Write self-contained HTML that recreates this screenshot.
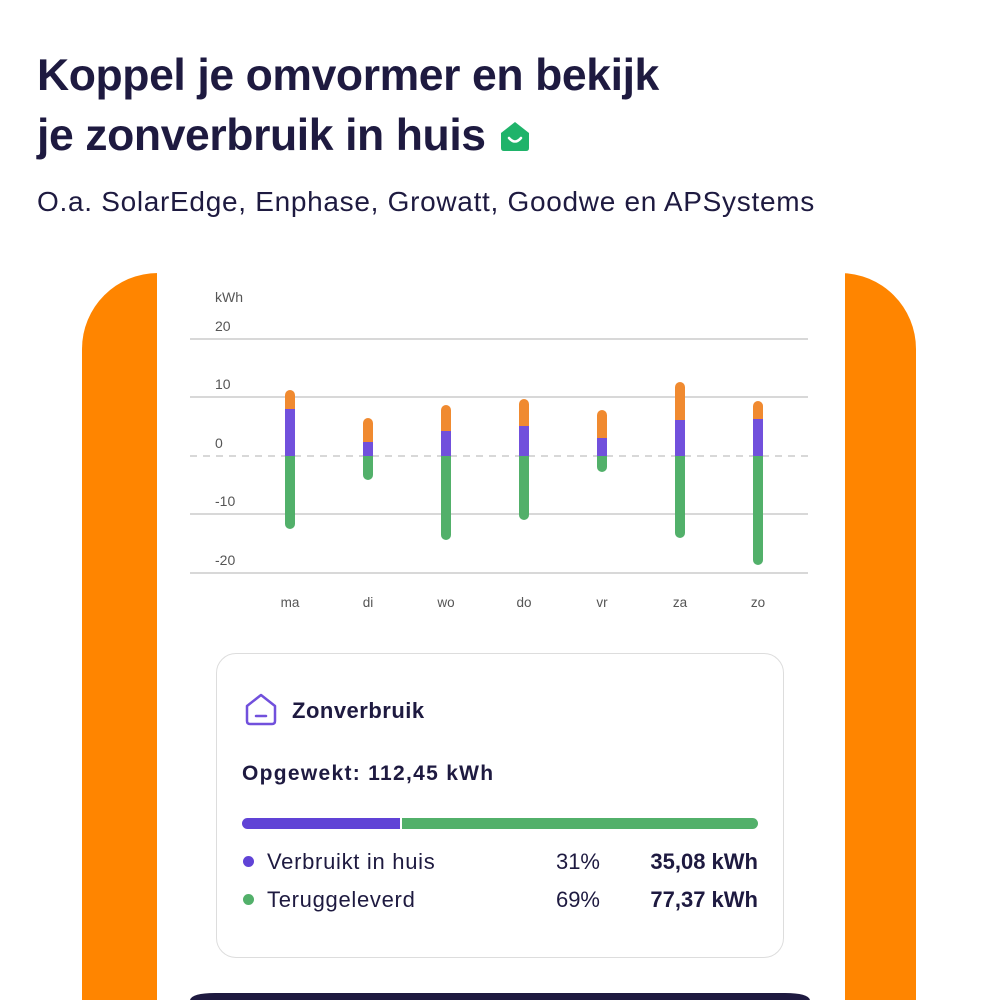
<!DOCTYPE html>
<html style="overflow:hidden;width:1000px;height:1000px"><head><style>
body{margin:0;width:1000px;height:1000px;overflow:hidden;background:#fff;font-family:"Liberation Sans",sans-serif;color:#1e1a40;position:relative}
.a{position:absolute}
h1{position:absolute;left:37px;top:46px;margin:0;font-size:44.5px;line-height:60px;font-weight:bold;letter-spacing:-0.4px;color:#1e1a40;white-space:nowrap}
</style></head><body>
<h1>Koppel je omvormer en bekijk<br>je zonverbruik in huis <span style="display:inline-block;width:34px;height:34px;vertical-align:-3px;position:relative"><svg width="34" height="34" viewBox="0 0 34 34"><path d="M3 14 L17 3 L31 14 V29 Q31 32 28 32 H6 Q3 32 3 29 Z" fill="#1fb36a"/><path d="M11 19 Q17 26 23 19" stroke="#fff" stroke-width="2.5" fill="none" stroke-linecap="round"/></svg></span></h1>
<div class="a" style="left:37px;top:186px;font-size:28px;letter-spacing:0.7px;color:#1e1a40;white-space:nowrap">O.a. SolarEdge, Enphase, Growatt, Goodwe en APSystems</div>
<div class="a" style="left:82px;top:273px;width:834px;height:727px;background:#ff8500;border-radius:76px 76px 0 0"></div>
<div class="a" style="left:157px;top:273px;width:688px;height:727px;background:#fff"></div>
<svg class="a" style="left:0;top:0" width="1000" height="1000">
<g stroke="#d8d8d8" stroke-width="2"><line x1="190" y1="339" x2="808" y2="339"/><line x1="190" y1="397" x2="808" y2="397"/><line x1="190" y1="514" x2="808" y2="514"/><line x1="190" y1="573" x2="808" y2="573"/></g>
<line x1="190" y1="456" x2="808" y2="456" stroke="#ccc" stroke-width="1.5" stroke-dasharray="7,6"/>
<g font-family="Liberation Sans" font-size="14" fill="#555">
<text x="215" y="302">kWh</text><text x="215" y="331">20</text><text x="215" y="389">10</text><text x="215" y="448">0</text><text x="215" y="506">-10</text><text x="215" y="565">-20</text>
<g text-anchor="middle" font-size="13.5"><text x="290" y="607">ma</text><text x="368" y="607">di</text><text x="446" y="607">wo</text><text x="524" y="607">do</text><text x="602" y="607">vr</text><text x="680" y="607">za</text><text x="758" y="607">zo</text></g>
</g>
<g stroke-width="10" stroke-linecap="round">
<g stroke="#f08a30"><line x1="290" y1="395" x2="290" y2="412"/><line x1="368" y1="423" x2="368" y2="445"/><line x1="446" y1="410" x2="446" y2="434"/><line x1="524" y1="404" x2="524" y2="429"/><line x1="602" y1="415" x2="602" y2="441"/><line x1="680" y1="387" x2="680" y2="423"/><line x1="758" y1="406" x2="758" y2="422"/></g>
<g stroke="#52b06a"><line x1="290" y1="460" x2="290" y2="524"/><line x1="368" y1="460" x2="368" y2="475"/><line x1="446" y1="460" x2="446" y2="535"/><line x1="524" y1="460" x2="524" y2="515"/><line x1="602" y1="460" x2="602" y2="467"/><line x1="680" y1="460" x2="680" y2="533"/><line x1="758" y1="460" x2="758" y2="560"/></g>
</g>
<g fill="#7150dc"><rect x="285" y="409" width="10" height="47"/><rect x="363" y="442" width="10" height="14"/><rect x="441" y="431" width="10" height="25"/><rect x="519" y="426" width="10" height="30"/><rect x="597" y="438" width="10" height="18"/><rect x="675" y="420" width="10" height="36"/><rect x="753" y="419" width="10" height="37"/></g>
<g fill="#52b06a"><rect x="285" y="456" width="10" height="10"/><rect x="363" y="456" width="10" height="10"/><rect x="441" y="456" width="10" height="10"/><rect x="519" y="456" width="10" height="10"/><rect x="597" y="456" width="10" height="8"/><rect x="675" y="456" width="10" height="10"/><rect x="753" y="456" width="10" height="10"/></g>
<path d="M190 1000 V1023 A30 30 0 0 1 220 993 H780 A30 30 0 0 1 810 1023 V1000 Z" fill="#1e1a40"/>
<path d="M190 1000 Q192 993 215 993 H785 Q808 993 810 1000 Z" fill="#1e1a40"/>
</svg>
<div class="a" style="left:216px;top:653px;width:566px;height:303px;border:1.5px solid #ddd;border-radius:20px"></div>
<svg class="a" style="left:244px;top:692px" width="34" height="34" viewBox="0 0 34 34"><path d="M3 14 L17 3 L31 14 V29 Q31 32 28 32 H6 Q3 32 3 29 Z" fill="none" stroke="#7150dc" stroke-width="2.5" stroke-linejoin="round"/><line x1="12" y1="24" x2="22" y2="24" stroke="#7150dc" stroke-width="2.5" stroke-linecap="round"/></svg>
<div class="a" style="left:292px;top:698px;font-size:22px;font-weight:bold;letter-spacing:0.5px">Zonverbruik</div>
<div class="a" style="left:242px;top:762px;font-size:21px;font-weight:bold;letter-spacing:1.3px">Opgewekt: 112,45 kWh</div>
<div class="a" style="left:242px;top:818px;width:158px;height:11px;background:#6043d6;border-radius:6px 0 0 6px"></div>
<div class="a" style="left:402px;top:818px;width:356px;height:11px;background:#52b06a;border-radius:0 6px 6px 0"></div>
<div class="a" style="left:243px;top:856px;width:11px;height:11px;border-radius:50%;background:#6043d6"></div>
<div class="a" style="left:243px;top:894px;width:11px;height:11px;border-radius:50%;background:#52b06a"></div>
<div class="a" style="left:267px;top:849px;font-size:22px;letter-spacing:0.7px">Verbruikt in huis</div>
<div class="a" style="left:267px;top:887px;font-size:22px;letter-spacing:0.7px">Teruggeleverd</div>
<div class="a" style="left:500px;top:849px;width:100px;text-align:right;font-size:22px">31%</div>
<div class="a" style="left:500px;top:887px;width:100px;text-align:right;font-size:22px">69%</div>
<div class="a" style="left:600px;top:849px;width:158px;text-align:right;font-size:22px;font-weight:bold">35,08 kWh</div>
<div class="a" style="left:600px;top:887px;width:158px;text-align:right;font-size:22px;font-weight:bold">77,37 kWh</div>
</body></html>
